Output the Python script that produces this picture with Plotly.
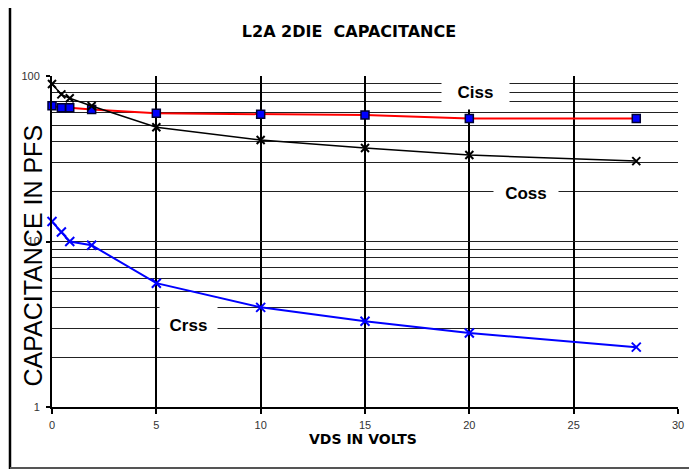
import plotly.graph_objects as go

# VDS values (volts)
vds = [0, 0.45, 0.85, 1.9, 5, 10, 15, 20, 28]

# capacitance in pF
ciss = [66.2, 64.3, 64.3, 62.8, 59.5, 58.7, 58.1, 55.3, 55.3]
coss = [89.5, 77.4, 73.3, 65.9, 49.0, 41.0, 36.7, 33.3, 30.6]
crss = [13.2, 11.4, 10.0, 9.5, 5.6, 4.0, 3.3, 2.8, 2.3]

x_ticks = [0, 5, 10, 15, 20, 25, 30]
y_ticks = [1, 10, 100]

fig = go.Figure()

fig.add_trace(go.Scatter(
    x=vds, y=ciss, mode='lines+markers', name='Ciss', cliponaxis=False,
    line=dict(color='#ff0000', width=2),
    marker=dict(symbol='square', size=8, color='#0000ff',
                line=dict(color='#000033', width=1.5))))

fig.add_trace(go.Scatter(
    x=vds, y=coss, mode='lines+markers', name='Coss', cliponaxis=False,
    line=dict(color='#000000', width=1.5),
    marker=dict(symbol='x-thin', size=8, color='#000000',
                line=dict(color='#000000', width=2))))

fig.add_trace(go.Scatter(
    x=vds, y=crss, mode='lines+markers', name='Crss', cliponaxis=False,
    line=dict(color='#0000ff', width=2),
    marker=dict(symbol='x-thin', size=9, color='#0000ff',
                line=dict(color='#0000ff', width=2))))

# series labels sit in white boxes that cut the grid lines
# (text, x, y, box width, box height)
labels = [('Ciss', 0.6765, 0.9517, 65, 32),
          ('Coss', 0.7572, 0.6465, 62, 24),
          ('Crss', 0.2180, 0.2462, 55, 51)]
for txt, lx, ly, bw, bh in labels:
    fig.add_annotation(text=txt, x=lx, y=ly, xref='paper', yref='paper',
                       xanchor='center', yanchor='middle', showarrow=False,
                       width=bw, height=bh, align='center', valign='middle',
                       bgcolor='white', borderpad=1,
                       font=dict(family='Arial', size=17, color='black', weight='bold'))

# outer frame
fig.add_shape(type='line', xref='paper', yref='paper', x0=-0.0671, x1=-0.0671,
              y0=-0.19, y1=1.25, line=dict(color='black', width=2.5))
fig.add_shape(type='line', xref='paper', yref='paper', x0=1.024, x1=1.024,
              y0=-0.19, y1=1.25, line=dict(color='black', width=2.5))
fig.add_shape(type='line', xref='paper', yref='paper', x0=-0.0671, x1=1.024,
              y0=-0.1843, y1=-0.1843, line=dict(color='#555555', width=2))

fig.add_annotation(text='CAPACITANCE IN PFS', x=-0.0296, y=0.459,
                   xref='paper', yref='paper', xanchor='center', yanchor='middle',
                   showarrow=False, textangle=-90,
                   font=dict(family='Arial', size=25, color='black'))
fig.add_annotation(text='VDS IN VOLTS', x=0.4968, y=-0.0967,
                   xref='paper', yref='paper', xanchor='center', yanchor='middle',
                   showarrow=False,
                   font=dict(family='DejaVu Sans', size=14, color='black', weight='bold'))

# page body has an 8px margin, so the figure is sized to fit the window
fig.update_layout(
    width=689, height=461,
    margin=dict(l=44, r=19, t=68, b=62),
    paper_bgcolor='white', plot_bgcolor='white',
    showlegend=False,
    title=dict(text='L2A 2DIE  CAPACITANCE', x=0.4949, y=0.950,
               xanchor='center', yanchor='middle',
               font=dict(family='DejaVu Sans', size=16, color='black', weight='bold')),
    font=dict(family='Arial', size=11, color='#333333'),
)

tick_font = dict(family='Arial', size=11, color='#333333')

fig.update_xaxes(
    range=[0, 30], tickvals=x_ticks, ticks='outside', ticklen=5,
    tickcolor='black', tickwidth=1.5, ticklabelstandoff=2, tickfont=tick_font,
    showline=True, linecolor='black', linewidth=2,
    showgrid=True, gridcolor='black', gridwidth=2, zeroline=False,
)
fig.update_yaxes(
    type='log', range=[0, 2], tickvals=y_ticks, ticks='outside', ticklen=4,
    tickcolor='black', tickwidth=1.5, ticklabelstandoff=4, tickfont=tick_font,
    showline=True, linecolor='black', linewidth=2,
    showgrid=True, gridcolor='#222222', gridwidth=1.3, zeroline=False,
    minor=dict(dtick='D1', showgrid=True, gridcolor='#222222', gridwidth=1.3, ticks=''),
)

fig.write_html("out.html")
